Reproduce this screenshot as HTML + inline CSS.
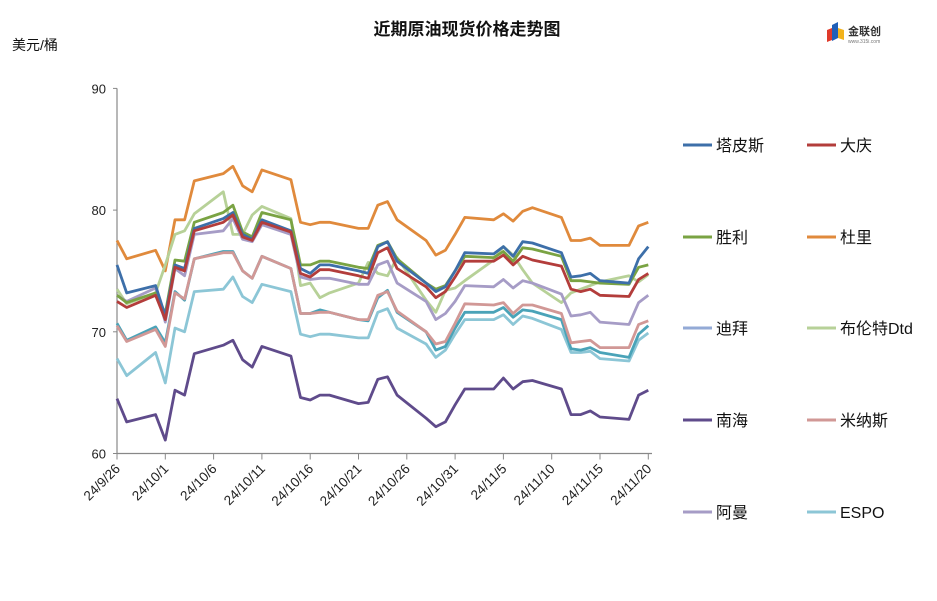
<!DOCTYPE html>
<html><head><meta charset="utf-8"><style>
body{margin:0;background:#fff;}
svg{display:block;font-family:"Liberation Sans","Noto Sans CJK SC",sans-serif;}
</style></head><body>
<svg id="chart" width="937" height="601">
<text x="467" y="35" text-anchor="middle" font-size="17" font-weight="bold" fill="#111">近期原油现货价格走势图</text>
<text x="12" y="50" font-size="14" fill="#111">美元/桶</text>
<g>
<path d="M832 25 l6 -3 l0 16 l-6 3z" fill="#1f5fb8"/><path d="M827 30 l5 -2 l0 12 l-5 2z" fill="#e03a2a"/><path d="M838 28 l6 2 l0 10 l-6 -2z" fill="#f2b31c"/>
<text x="848" y="35" font-size="11" fill="#333" font-weight="bold">金联创</text>
<text x="848" y="43" font-size="5" fill="#777">www.315i.com</text>
</g>
<g id="axes"></g>
<g id="series"></g>
<g id="legend"></g>
</svg>
<script>
const dayOffsets=[0,1,4,5,6,7,8,11,12,13,14,15,18,19,20,21,22,25,26,27,28,29,32,33,34,35,36,39,40,41,42,43,46,47,48,49,50,53,54,55];
const xTickLabels=["24/9/26","24/10/1","24/10/6","24/10/11","24/10/16","24/10/21","24/10/26","24/10/31","24/11/5","24/11/10","24/11/15","24/11/20"];
const yTicks=[60,70,80,90];
const seriesNames=["塔皮斯","大庆","胜利","杜里","迪拜","布伦特Dtd","南海","米纳斯","阿曼","ESPO"];
const tapis=[75.5,73.2,73.8,71.3,75.5,75.2,78.5,79.3,79.8,78,77.6,79.2,78.3,75.2,74.8,75.5,75.5,75,74.8,77,77.4,75.8,74,73.3,73.7,75,76.5,76.4,77,76.2,77.4,77.3,76.5,74.5,74.6,74.8,74.2,74,76,77];
const daqing=[72.5,72,73,71,75.3,75,78.3,79,79.6,77.8,77.5,79,78.2,74.8,74.5,75.1,75.1,74.6,74.4,76.5,76.9,75.2,73.7,72.8,73.3,74.5,75.8,75.8,76.3,75.5,76.2,75.9,75.4,73.5,73.3,73.5,73,72.9,74.3,74.8];
const shengli=[73,72.4,73.2,71.5,75.9,75.8,79,79.8,80.4,78.2,77.8,79.8,79.2,75.5,75.5,75.8,75.8,75.3,75.2,77.1,77.4,76,74,73.5,73.8,75,76.2,76.1,76.6,75.8,76.9,76.8,76.2,74.2,74.2,74.1,74,73.9,75.3,75.5];
const duri=[77.5,76,76.7,75,79.2,79.2,82.4,83,83.6,82,81.5,83.3,82.5,79,78.8,79,79,78.5,78.5,80.4,80.7,79.2,77.5,76.3,76.7,78,79.4,79.2,79.7,79.1,79.9,80.2,79.4,77.5,77.5,77.7,77.1,77.1,78.7,79];
const dubai=[70.7,69.3,70.4,69.1,73.3,72.6,76,76.6,76.6,75,74.4,76.2,75.2,71.5,71.5,71.8,71.6,71,70.9,72.8,73.4,71.6,70,68.5,68.8,70.3,71.6,71.6,72,71.2,71.8,71.7,71,68.6,68.5,68.7,68.3,67.9,69.8,70.5];
const brent=[73.5,72.3,73.2,75.5,78,78.3,79.7,81.5,78,78,79.6,80.3,79.3,73.8,74,72.8,73.2,74,75.7,74.8,74.6,76.1,72.6,71.6,73.4,73.6,74.2,75.9,77,76.3,75.1,74,72.4,73.2,73.5,73.8,74.1,74.6,74.1,74.7];
const nanhai=[64.5,62.6,63.2,61.1,65.2,64.8,68.2,68.9,69.3,67.7,67.1,68.8,68,64.6,64.4,64.8,64.8,64.1,64.2,66.1,66.3,64.8,62.9,62.2,62.6,64,65.3,65.3,66.2,65.3,65.9,66,65.3,63.2,63.2,63.5,63,62.8,64.8,65.2];
const minas=[70.5,69.2,70.2,68.8,73.2,72.7,76,76.5,76.5,75,74.4,76.2,75.2,71.5,71.5,71.6,71.6,71,71,73,73.3,71.7,70,69,69.2,70.7,72.3,72.2,72.4,71.5,72.2,72.2,71.5,69.1,69.2,69.3,68.7,68.7,70.6,70.9];
const oman=[73,72.5,73.6,70.8,75.2,74.6,78,78.3,79.3,77.6,77.4,78.8,78,74.5,74.3,74.4,74.4,73.9,73.9,75.5,75.8,74,72.5,71,71.5,72.5,73.8,73.7,74.3,73.6,74.2,74,73.1,71.3,71.4,71.6,70.8,70.6,72.4,73];
const espo=[67.8,66.4,68.3,65.8,70.3,70,73.3,73.5,74.5,72.9,72.4,73.9,73.3,69.8,69.6,69.8,69.8,69.5,69.5,71.6,71.9,70.3,69,67.9,68.5,69.8,71,71,71.4,70.6,71.3,71.1,70.2,68.3,68.3,68.4,67.8,67.6,69.3,69.9];

const NS="http://www.w3.org/2000/svg";
const X0=117,PX_PER_DAY=9.66,Y60=453.5,PX_PER_UNIT=12.17;
const xs=d=>X0+d*PX_PER_DAY;
const ys=v=>Y60-(v-60)*PX_PER_UNIT;
function mk(tag,attrs,parent){const e=document.createElementNS(NS,tag);for(const k in attrs)e.setAttribute(k,attrs[k]);parent.appendChild(e);return e;}
const axes=document.getElementById('axes');
let e=mk('line',{x1:X0,y1:ys(90),x2:X0,y2:ys(60),stroke:'#888','stroke-width':1.2},axes);


e=mk('line',{x1:X0,y1:ys(60),x2:652,y2:ys(60),stroke:'#888','stroke-width':1.2},axes);


yTicks.forEach(v=>{
  const t=mk('text',{x:106,y:ys(v)+5,'text-anchor':'end','font-size':13,fill:'#222'},axes);
  t.textContent=v;
  
  
  const l=mk('line',{x1:X0-4,y1:ys(v),x2:X0,y2:ys(v),stroke:'#888'},axes);
  
  
});
xTickLabels.forEach((lab,i)=>{
  const x=xs(i*5);
  const l=mk('line',{x1:x,y1:ys(60),x2:x,y2:ys(60)+6,stroke:'#888'},axes);
  
  
  const t=mk('text',{x:x+4,y:ys(60)+16,'text-anchor':'end','font-size':13.5,fill:'#222',transform:`rotate(-45 ${x+4} ${ys(60)+16})`},axes);
  t.textContent=lab;
  
  
});
const colors=["#3d6fa9","#b33d3b","#7aa343","#e08a3c","#4aa3b8","#b7d198","#5f4b8b","#d19896","#a69cc6","#8cc6d6"];
const legendColors=["#3d6fa9","#b33d3b","#7aa343","#e08a3c","#93aad6","#b7d198","#5f4b8b","#d19896","#a69cc6","#8cc6d6"];
const data=[tapis,daqing,shengli,duri,dubai,brent,nanhai,minas,oman,espo];
const keys=["tapis","daqing","shengli","duri","dubai","brent-dtd","nanhai","minas","oman","espo"];
const order=[3,5,8,2,0,1,9,4,7,6];
const sg=document.getElementById('series');
order.forEach(i=>{
  const pts=data[i].map((v,j)=>xs(dayOffsets[j]).toFixed(1)+','+ys(v).toFixed(1)).join(' ');
  const p=mk('polyline',{points:pts,fill:'none',stroke:colors[i],'stroke-width':2.8,'stroke-linejoin':'round'},sg);
  
  
});
const lg=document.getElementById('legend');
const rowsY=[145,237,328,420,512];
seriesNames.forEach((n,i)=>{
  const col=i%2,row=Math.floor(i/2);
  const x=col?807:683,y=rowsY[row];
  const g=mk('g',{},lg);
  
  
  mk('line',{x1:x,y1:y,x2:x+29,y2:y,stroke:legendColors[i],'stroke-width':3},g);
  const t=mk('text',{x:x+33,y:y+6,'font-size':16,fill:'#111'},g);
  t.textContent=n;
});
</script>
</body></html>
